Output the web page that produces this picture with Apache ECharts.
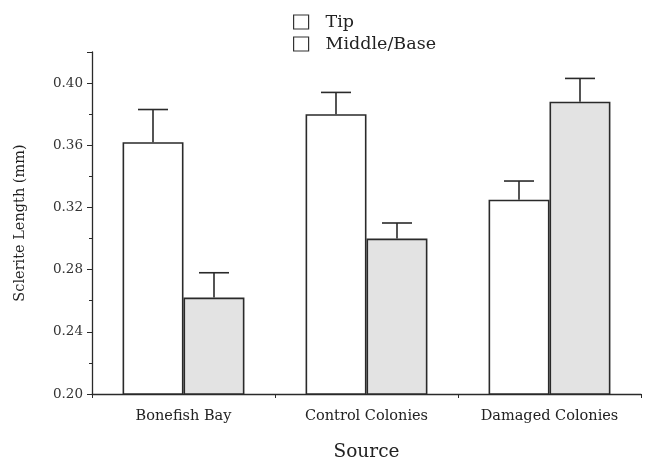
<!DOCTYPE html>
<html><head><meta charset="utf-8">
<script src="https://cdn.jsdelivr.net/npm/echarts@6/dist/echarts.min.js"></script>
<style>html,body{margin:0;padding:0;background:#fff}#c{width:650px;height:460px}</style>
</head><body><div id="c"></div>
<script>
var categories = ['Bonefish Bay', 'Control Colonies', 'Damaged Colonies'];
var tipValues = [0.362, 0.380, 0.325];
var tipErrTop = [0.383, 0.394, 0.337];
var baseValues = [0.262, 0.300, 0.388];
var baseErrTop = [0.278, 0.310, 0.403];
var yTicks = [0.20, 0.24, 0.28, 0.32, 0.36, 0.40];

var font = '"DejaVu Serif", "Liberation Serif", serif';
var chart = echarts.init(document.getElementById('c'));

function errSeries(values, tops, side) {
  return {
    type: 'custom',
    silent: true,
    z: 5,
    data: values.map(function (v, i) { return [i, v, tops[i]]; }),
    renderItem: function (params, api) {
      var band = api.size([1, 0])[0];
      var off = side * band / 6;
      var p0 = api.coord([api.value(0), api.value(1)]);
      var p1 = api.coord([api.value(0), api.value(2)]);
      var x = p0[0] + off;
      var cap = 15;
      var st = { stroke: '#2a2a2a', lineWidth: 1.6 };
      return {
        type: 'group',
        children: [
          { type: 'line', shape: { x1: x, y1: p0[1], x2: x, y2: p1[1] }, style: st },
          { type: 'line', shape: { x1: x - cap, y1: p1[1], x2: x + cap, y2: p1[1] }, style: st }
        ]
      };
    }
  };
}

chart.setOption({
  animation: false,
  textStyle: { fontFamily: font },
  grid: { left: 92, right: 9, top: 52, bottom: 66, outerBoundsMode: 'none', containLabel: false },
  legend: {
    orient: 'vertical',
    left: 288, top: 8,
    padding: 5,
    itemWidth: 15, itemHeight: 14, itemGap: 4,
    icon: 'rect',
    textStyle: { fontFamily: font, fontSize: 17.5, lineHeight: 15, color: '#222', padding: [0, 0, 0, 12] },
    data: [
      { name: 'Tip', itemStyle: { color: '#fff', borderColor: '#333', borderWidth: 1.2 } },
      { name: 'Middle/Base', itemStyle: { color: '#fff', borderColor: '#333', borderWidth: 1.2 } }
    ]
  },
  xAxis: {
    type: 'category',
    data: categories,
    name: 'Source',
    nameLocation: 'middle',
    nameGap: 49,
    nameTextStyle: { fontFamily: font, fontSize: 18.5, color: '#222' },
    axisLine: { lineStyle: { color: '#2a2a2a', width: 1.3 } },
    axisTick: { show: true, interval: 0, length: 4, lineStyle: { color: '#2a2a2a' } },
    axisLabel: { interval: 0, hideOverlap: false, fontFamily: font, fontSize: 14.5, color: '#222', margin: 15 }
  },
  yAxis: {
    type: 'value',
    min: 0.20, max: 0.42, interval: 0.04,
    name: 'Sclerite Length (mm)',
    nameLocation: 'middle',
    nameGap: 64,
    nameTextStyle: { fontFamily: font, fontSize: 14.5, color: '#1e1e1e' },
    axisLine: { show: true, lineStyle: { color: '#2a2a2a', width: 1.3 } },
    axisTick: { show: true, length: 5, lineStyle: { color: '#2a2a2a' } },
    minorTick: { show: true, splitNumber: 2, length: 3, lineStyle: { color: '#2a2a2a' } },
    splitLine: { show: false },
    axisLabel: {
      fontFamily: font, fontSize: 13.5, color: '#333', margin: 9, showMaxLabel: false,
      formatter: function (v) {
        for (var i = 0; i < yTicks.length; i++) if (Math.abs(yTicks[i] - v) < 1e-6) return yTicks[i].toFixed(2);
        return '';
      }
    }
  },
  series: [
    {
      name: 'Tip', type: 'bar', data: tipValues,
      barCategoryGap: '33.4%', barGap: '0%',
      itemStyle: { color: '#ffffff', borderColor: '#2a2a2a', borderWidth: 1.6 }
    },
    {
      name: 'Middle/Base', type: 'bar', data: baseValues,
      itemStyle: { color: '#e3e3e3', borderColor: '#2a2a2a', borderWidth: 1.6 }
    },
    errSeries(tipValues, tipErrTop, -1),
    errSeries(baseValues, baseErrTop, 1)
  ]
});
</script></body></html>
